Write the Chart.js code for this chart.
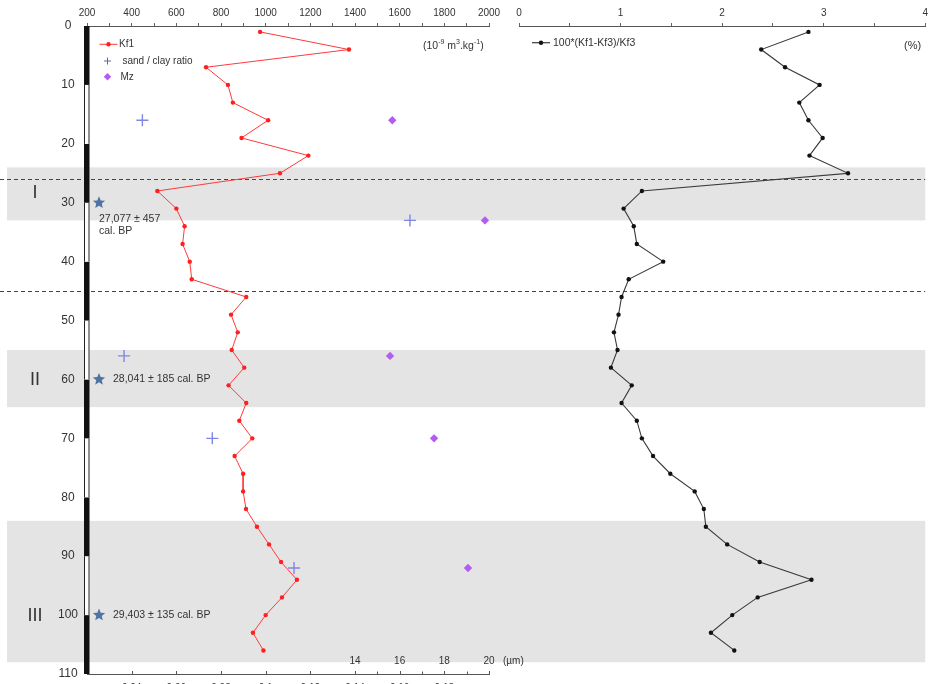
<!DOCTYPE html>
<html><head><meta charset="utf-8">
<script src="https://cdn.jsdelivr.net/npm/chart.js@4.4.1/dist/chart.umd.min.js"></script>
<style>
html,body{margin:0;padding:0;background:#fff;overflow:hidden;}
#wrap{position:relative;width:932px;height:684px;overflow:hidden;background:#fff;}
#cB{position:absolute;left:0;top:0;z-index:0;}
#cA{position:absolute;left:0;top:0;z-index:1;}
</style></head><body>
<div id="wrap">
<canvas id="cB" width="932" height="700"></canvas>
<canvas id="cA" width="540" height="700"></canvas>
</div>
<script>
// ---------- data ----------
const depths = [1,4,7,10,13,16,19,22,25,28,31,34,37,40,43,46,49,52,55,58,61,64,67,70,73,76,79,82,85,88,91,94,97,100,103,106];
const kf1 = [975,1373,733,831,853,1011,892,1191,1064,515,600,637,628,660,669,913,845,875,848,904,834,913,882,940,861,899,899,912,961,1015,1069,1140,1073,1000,943,990];
const kfRatio = [2.85,2.385,2.62,2.96,2.76,2.85,2.99,2.86,3.24,1.21,1.03,1.13,1.16,1.42,1.08,1.01,0.98,0.935,0.97,0.905,1.11,1.01,1.16,1.21,1.32,1.49,1.73,1.82,1.84,2.05,2.37,2.88,2.35,2.10,1.89,2.12];
const grainDepths = [16,33,56,70,92];
const sandClay = [0.0448,0.1646,0.0366,0.0761,0.1127];
const mz = [15.67,19.82,15.57,17.54,19.06];
const bandTops = [24,55,84];
const bandBottoms = [33,64.7,108];
const dashedDepths = [26,45];
const dateDepths = [30,60,100];
const dateLabels = [["27,077 \u00b1 457","cal. BP"],["28,041 \u00b1 185 cal. BP"],["29,403 \u00b1 135 cal. BP"]];
const unitNames = ["I","II","III"];
const unitDepths = [28.2,60,100];
const mzTickLabels = [14,16,18,20];

const FONT = "'Liberation Sans', Arial, sans-serif";
Chart.defaults.font.family = FONT;
Chart.defaults.color = '#333';
const TXT = '#333';

function drawStar(ctx,cx,cy,R,r){
  ctx.beginPath();
  for(let k=0;k<10;k++){const a=-Math.PI/2+k*Math.PI/5;const rr=k%2?r:R;ctx.lineTo(cx+rr*Math.cos(a),cy+rr*Math.sin(a));}
  ctx.closePath();ctx.fill();
}
function rich(ctx,x,y,parts){
  // parts: [text, size, dy]
  ctx.textAlign='left';ctx.textBaseline='middle';
  for(const [t,s,dy] of parts){ctx.font=s+'px '+FONT;ctx.fillText(t,x,y+dy);x+=ctx.measureText(t).width;}
}

// ---------- right panel (also draws bands & dashed lines full width) ----------
const pluginB = {
  id:'decorB',
  beforeDatasetsDraw(chart){
    const {ctx, chartArea:ca, scales:{y}} = chart;
    ctx.save();
    ctx.fillStyle='#e4e4e4';
    for(let i=0;i<bandTops.length;i++){
      const y1=y.getPixelForValue(bandTops[i]), y2=y.getPixelForValue(bandBottoms[i]);
      ctx.fillRect(7,y1,ca.right-7,y2-y1);
    }
    ctx.strokeStyle='#444';ctx.lineWidth=1;ctx.setLineDash([4,3]);
    for(const d of dashedDepths){
      const py=Math.round(y.getPixelForValue(d))+0.5;
      ctx.beginPath();ctx.moveTo(0,py);ctx.lineTo(ca.right,py);ctx.stroke();
    }
    ctx.restore();
  },
  afterDatasetsDraw(chart){
    const {ctx, chartArea:ca} = chart;
    const ds = chart.data.datasets[0];
    ctx.save();
    // legend
    const ly=42.7, lx=ca.left+13;
    ctx.strokeStyle=ds.borderColor;ctx.lineWidth=1.2;
    ctx.beginPath();ctx.moveTo(lx,ly);ctx.lineTo(lx+18,ly);ctx.stroke();
    ctx.fillStyle='#111';ctx.beginPath();ctx.arc(lx+9,ly,2.2,0,Math.PI*2);ctx.fill();
    ctx.fillStyle=TXT;rich(ctx,lx+21,ly,[[ds.label,10.5,0]]);
    ctx.textAlign='right';ctx.font='11px '+FONT;ctx.fillText('(%)',ca.right-4,46);
    ctx.restore();
  }
};

new Chart(document.getElementById('cB'),{
  type:'scatter',
  data:{datasets:[{
    label:'100*(Kf1-Kf3)/Kf3',
    data:depths.map((d,i)=>({x:kfRatio[i],y:d})),
    xAxisID:'xR',yAxisID:'y',showLine:true,
    borderColor:'#3a3a3a',borderWidth:1.1,
    pointRadius:2.2,pointBackgroundColor:'#111',pointBorderColor:'#111',pointBorderWidth:0
  }]},
  options:{
    responsive:false,animation:false,events:[],
    layout:{padding:{left:519,right:4,top:0,bottom:26}},
    plugins:{legend:{display:false},tooltip:{enabled:false}},
    scales:{
      y:{type:'linear',display:false,reverse:true,min:0,max:110},
      xR:{type:'linear',position:'top',min:0,max:4,
        ticks:{stepSize:0.5,autoSkip:false,maxRotation:0,padding:4,color:TXT,font:{size:10},
          callback:v=>Number.isInteger(v)?String(v):''},
        grid:{drawOnChartArea:false,tickLength:3,color:'#666'},
        border:{color:'#555'},
        afterFit(s){s.height=26;}}
    }
  },
  plugins:[pluginB]
});

// ---------- left panel ----------
const pluginA = {
  id:'decorA',
  beforeDatasetsDraw(chart){
    const {ctx, chartArea:ca, scales:{y}} = chart;
    ctx.save();
    const tv = y.ticks.map(t=>t.value);
    for(let i=0;i<tv.length-1;i++){
      const y1=y.getPixelForValue(tv[i]), y2=y.getPixelForValue(tv[i+1]);
      if(i%2===0){ctx.fillStyle='#111';ctx.fillRect(ca.left-3,y1,5.5,y2-y1);}
      else{
        ctx.fillStyle='#fff';ctx.fillRect(ca.left-3,y1,5.5,y2-y1);
        ctx.strokeStyle='#222';ctx.lineWidth=1;ctx.beginPath();
        ctx.moveTo(ca.left-2.5,y1);ctx.lineTo(ca.left-2.5,y2);
        ctx.moveTo(ca.left+2,y1);ctx.lineTo(ca.left+2,y2);ctx.stroke();
      }
    }
    ctx.restore();
  },
  afterDatasetsDraw(chart){
    const {ctx, chartArea:ca, scales} = chart;
    const y=scales.y, xs=scales.xSand, xm=scales.xMz;
    ctx.save();
    // inward ticks on the bottom axis
    ctx.strokeStyle='#555';ctx.lineWidth=1;ctx.beginPath();
    const by=Math.round(ca.bottom)+0.5;
    for(const t of xs.ticks){ if(t.value<0.03) continue; const px=Math.round(xs.getPixelForValue(t.value))+0.5; ctx.moveTo(px,by);ctx.lineTo(px,by-3.5);}
    for(let v=mzTickLabels[0]; v<=mzTickLabels[mzTickLabels.length-1]; v+=1){const px=Math.round(xm.getPixelForValue(v))+0.5; ctx.moveTo(px,by);ctx.lineTo(px,by-3);}
    ctx.stroke();
    // Mz labels
    ctx.fillStyle=TXT;ctx.font='10px '+FONT;ctx.textAlign='center';ctx.textBaseline='middle';
    for(const v of mzTickLabels){ctx.fillText(String(v),xm.getPixelForValue(v),ca.bottom-12.5);}
    ctx.textAlign='left';ctx.fillText('(\u00b5m)',xm.getPixelForValue(mzTickLabels[mzTickLabels.length-1])+14,ca.bottom-12.5);
    // dates (stars)
    for(let i=0;i<dateDepths.length;i++){
      const sy=y.getPixelForValue(dateDepths[i]), sx=ca.left+12;
      ctx.fillStyle='#4f73a3';drawStar(ctx,sx,sy,6.5,2.9);
      ctx.fillStyle=TXT;ctx.font='10.5px '+FONT;ctx.textBaseline='middle';ctx.textAlign='left';
      const lab=dateLabels[i];
      if(lab.length>1){ctx.fillText(lab[0],sx,sy+16);ctx.fillText(lab[1],sx,sy+28);}
      else ctx.fillText(lab[0],sx+14,sy);
    }
    // unit numerals
    ctx.fillStyle=TXT;ctx.font='18px '+FONT;ctx.textAlign='center';ctx.textBaseline='middle';
    for(let i=0;i<unitNames.length;i++) ctx.fillText(unitNames[i],35,y.getPixelForValue(unitDepths[i])+1);
    // legend
    const d0=chart.data.datasets[0], d1=chart.data.datasets[1], d2=chart.data.datasets[2];
    ctx.strokeStyle=d0.borderColor;ctx.lineWidth=1;ctx.beginPath();ctx.moveTo(99.5,44.3);ctx.lineTo(117.5,44.3);ctx.stroke();
    ctx.fillStyle=d0.pointBackgroundColor;ctx.beginPath();ctx.arc(108.5,44.3,2.2,0,Math.PI*2);ctx.fill();
    ctx.strokeStyle='#5a68aa';ctx.lineWidth=1;ctx.beginPath();ctx.moveTo(104,61);ctx.lineTo(111,61);ctx.moveTo(107.5,57.5);ctx.lineTo(107.5,64.5);ctx.stroke();
    ctx.fillStyle=d2.backgroundColor;ctx.beginPath();ctx.moveTo(107.5,73);ctx.lineTo(111.2,76.7);ctx.lineTo(107.5,80.4);ctx.lineTo(103.8,76.7);ctx.closePath();ctx.fill();
    ctx.fillStyle=TXT;
    rich(ctx,119,44.5,[[d0.label,10,0]]);
    rich(ctx,122.5,61,[[d1.label,10,0]]);
    rich(ctx,120.5,77,[[d2.label,10,0]]);
    // unit
    rich(ctx,423,46,[['(10',10.5,0],['-9',7,-4],[' m',10.5,0],['3',7,-4],['.kg',10.5,0],['-1',7,-4],[')',10.5,0]]);
    ctx.restore();
  }
};

new Chart(document.getElementById('cA'),{
  type:'scatter',
  data:{datasets:[
    {label:'Kf1',data:depths.map((d,i)=>({x:kf1[i],y:d})),xAxisID:'xKf',yAxisID:'y',showLine:true,
     borderColor:'#ff3a3a',borderWidth:1,pointRadius:2.2,pointBackgroundColor:'#ff1f1f',pointBorderColor:'#ff1f1f',pointBorderWidth:0},
    {label:'sand / clay ratio',data:grainDepths.map((d,i)=>({x:sandClay[i],y:d})),xAxisID:'xSand',yAxisID:'y',
     pointStyle:'cross',pointRadius:6,pointBorderColor:'#7f87e2',borderColor:'#7f87e2',pointBorderWidth:1.4},
    {label:'Mz',data:grainDepths.map((d,i)=>({x:mz[i],y:d})),xAxisID:'xMz',yAxisID:'y',
     pointStyle:'rectRot',pointRadius:4.2,backgroundColor:'#b35cf2',pointBackgroundColor:'#b35cf2',pointBorderColor:'#b35cf2',pointBorderWidth:0}
  ]},
  options:{
    responsive:false,animation:false,events:[],
    layout:{padding:{left:0,right:51,top:0,bottom:0}},
    plugins:{legend:{display:false},tooltip:{enabled:false}},
    scales:{
      y:{type:'linear',position:'left',reverse:true,min:0,max:110,
        ticks:{stepSize:10,color:TXT,font:{size:12},crossAlign:'center',padding:9},
        grid:{display:false,drawTicks:false},border:{display:false},
        afterFit(s){s.width=87;}},
      xKf:{type:'linear',position:'top',min:200,max:2000,
        ticks:{stepSize:100,autoSkip:false,maxRotation:0,padding:4,color:TXT,font:{size:10},
          callback:v=>(v%200===0)?String(v):''},
        grid:{drawOnChartArea:false,tickLength:3,color:'#666'},border:{color:'#555'},
        afterFit(s){s.height=26;}},
      xSand:{type:'linear',position:'bottom',min:0.02,max:0.2,
        ticks:{stepSize:0.02,autoSkip:false,maxRotation:0,padding:8,color:TXT,font:{size:10},
          callback:v=>{const r=Math.round(v*100)/100;return (r<0.03||r>0.19)?'':String(r);}},
        grid:{drawOnChartArea:false,drawTicks:false},border:{color:'#555'},
        afterFit(s){s.height=26;}},
      xMz:{type:'linear',display:false,min:2,max:20}
    }
  },
  plugins:[pluginA]
});
</script>
</body></html>
